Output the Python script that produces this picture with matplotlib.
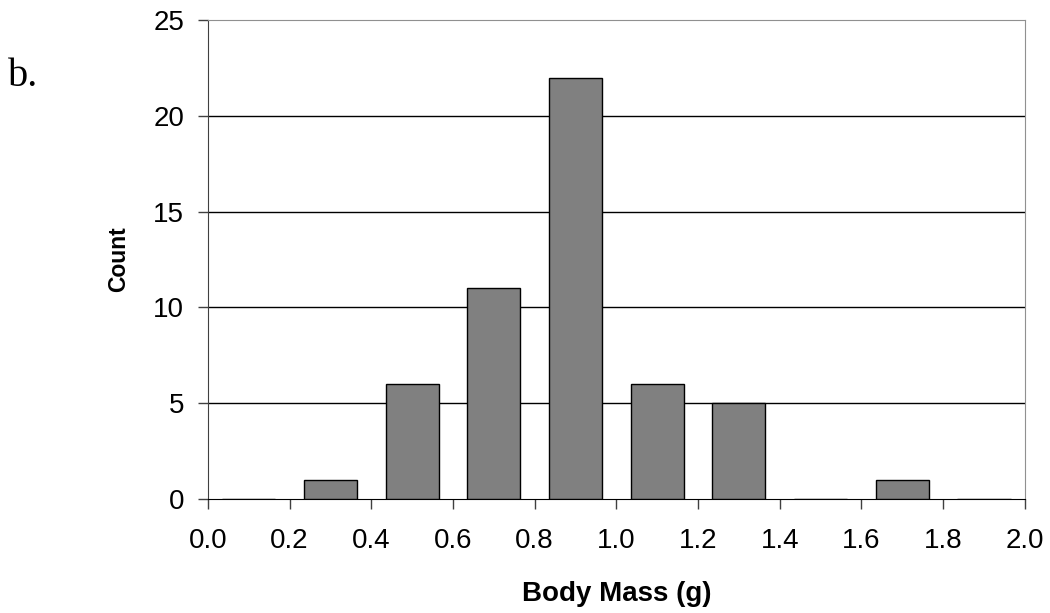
import matplotlib.pyplot as plt

plt.rcParams['font.family'] = ['Liberation Sans', 'DejaVu Sans']

# Histogram bins (bin centres, g) and counts
bin_centres = [0.1, 0.3, 0.5, 0.7, 0.9, 1.1, 1.3, 1.5, 1.7, 1.9]
counts = [0, 1, 6, 11, 22, 6, 5, 0, 1, 0]
x_ticks = [0.0, 0.2, 0.4, 0.6, 0.8, 1.0, 1.2, 1.4, 1.6, 1.8, 2.0]
y_ticks = [0, 5, 10, 15, 20, 25]

fig = plt.figure(figsize=(10.5, 6.13), dpi=100)
ax = fig.add_axes([0.198, 0.186, 0.778, 0.781])

ax.bar(bin_centres, counts, width=0.13, color='#808080', edgecolor='black',
       linewidth=1.0, zorder=3)

ax.set_xlim(0, 2.0)
ax.set_ylim(0, 25)
ax.set_xticks(x_ticks)
ax.set_xticklabels([f"{v:.1f}" for v in x_ticks])
ax.set_yticks(y_ticks)

# horizontal gridlines
for y in y_ticks[1:-1]:
    ax.axhline(y, color='black', linewidth=1.0, zorder=1)

ax.spines['left'].set_color('#404040')
ax.spines['bottom'].set_color('black')
ax.spines['top'].set_color('#909090')
ax.spines['right'].set_color('#909090')

ax.tick_params(axis='both', direction='out', length=7, width=1,
               labelsize=20, color='#404040')
ax.tick_params(axis='x', pad=14)
ax.tick_params(axis='y', pad=10)

ax.set_xlabel("Body Mass (g)", fontsize=20, fontweight='bold', va='center')
ax.xaxis.set_label_coords(0.5, -0.198)
ax.set_ylabel("Count", fontsize=16.5, fontweight='bold', va='center')
ax.yaxis.set_label_coords(-0.109, 0.5)

fig.text(0.008, 1 - 86 / 613, "b.", fontsize=29, family='Liberation Serif',
         va='baseline')

fig.savefig("out.png", dpi=100)
